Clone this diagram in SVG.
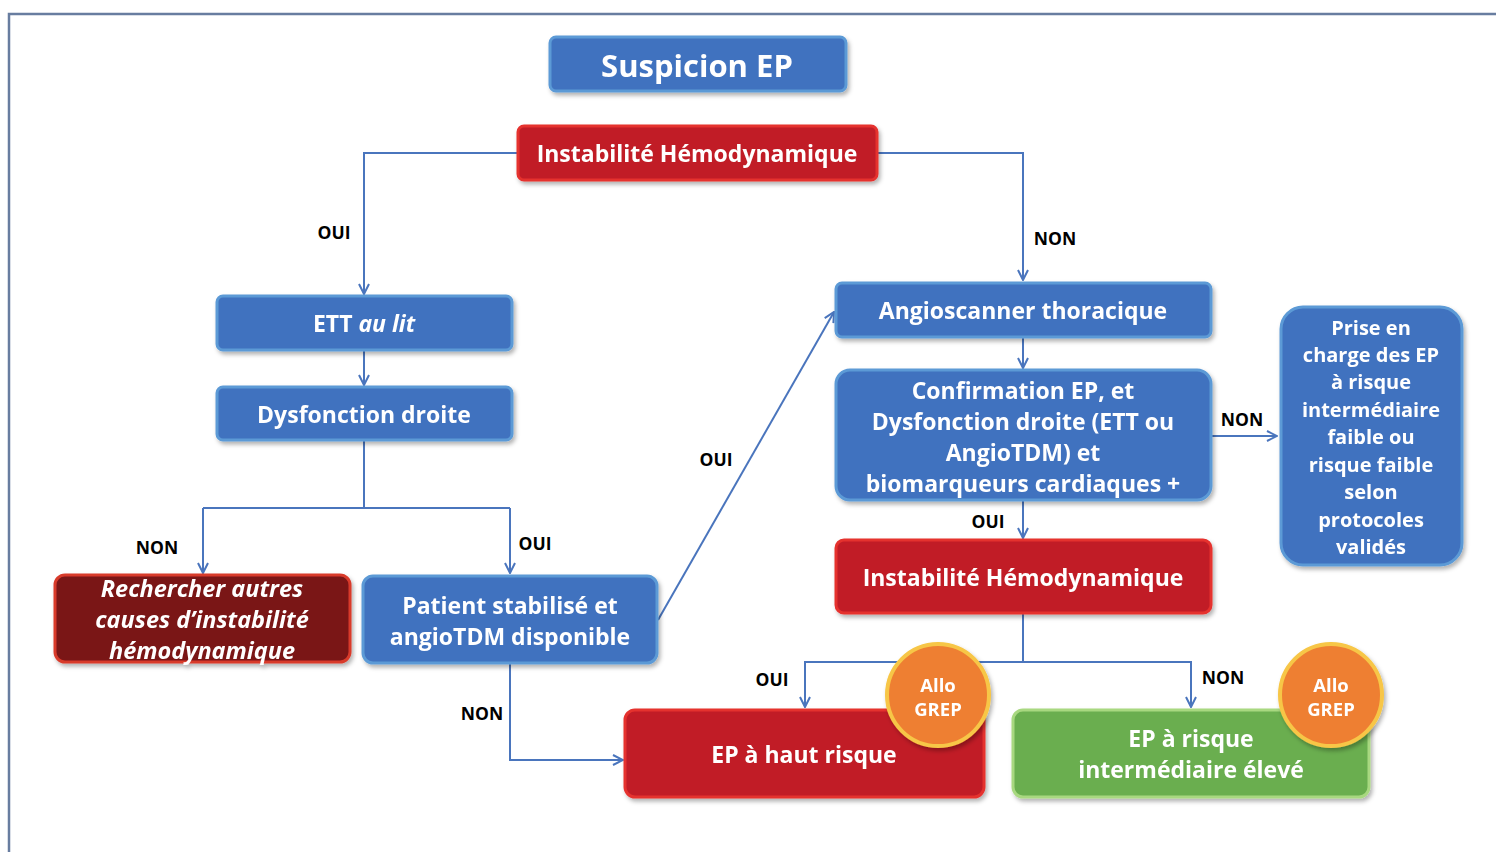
<svg xmlns="http://www.w3.org/2000/svg" width="1496" height="852" viewBox="0 0 1496 852">
<style>
.t{font-family:"Open Sans","Noto Sans",sans-serif;font-weight:700;fill:#fff;text-anchor:middle;dominant-baseline:central}
.lbl{font-family:"Open Sans","Noto Sans",sans-serif;font-weight:700;fill:#000;font-size:17.5px;text-anchor:middle;dominant-baseline:central}
.blue{fill:#4172bf;stroke:#5c9ad6;stroke-width:3}
.red{fill:#c11f27;stroke:#e5302e;stroke-width:3}
.dred{fill:#7a1414;stroke:#d83a2c;stroke-width:3}
.green{fill:#6aae4f;stroke:#a8d880;stroke-width:3}
.circ{fill:#ee7f32;stroke:#f7c646;stroke-width:4}
.c{fill:none;stroke:#4a75bd;stroke-width:2}
</style>
<defs>
<marker id="ah" viewBox="0 0 12 12" refX="11" refY="6" markerWidth="12" markerHeight="12" markerUnits="userSpaceOnUse" orient="auto">
<polyline points="1,1 11,6 1,11" fill="none" stroke="#4a75bd" stroke-width="2"/>
</marker>
<filter id="sh" x="-10%" y="-10%" width="125%" height="130%">
<feDropShadow dx="2" dy="3" stdDeviation="2" flood-color="#000" flood-opacity="0.3"/>
</filter>
</defs>
<rect x="0" y="0" width="1496" height="852" fill="#fff"/>
<path d="M9 852 V14 H1496" fill="none" stroke="#687da0" stroke-width="2.5"/>

<g id="connectors">
<path class="c" d="M518 153 H364 V294" marker-end="url(#ah)"/>
<path class="c" d="M877 153 H1023 V280" marker-end="url(#ah)"/>
<path class="c" d="M364 350 V385" marker-end="url(#ah)"/>
<path class="c" d="M364 440 V508 M203 508 H510 M203 508 V573" marker-end="url(#ah)"/>
<path class="c" d="M510 508 V573" marker-end="url(#ah)"/>
<path class="c" d="M658 620 L834 312" marker-end="url(#ah)"/>
<path class="c" d="M510 663 V760 H623" marker-end="url(#ah)"/>
<path class="c" d="M1023 337 V368" marker-end="url(#ah)"/>
<path class="c" d="M1211 436 H1277" marker-end="url(#ah)"/>
<path class="c" d="M1023 500 V538" marker-end="url(#ah)"/>
<path class="c" d="M1023 613 V662 H805 V707" marker-end="url(#ah)"/>
<path class="c" d="M1023 662 H1191 V707" marker-end="url(#ah)"/>
<text class="lbl" x="334" y="232">OUI</text>
<text class="lbl" x="1055" y="238">NON</text>
<text class="lbl" x="157" y="547">NON</text>
<text class="lbl" x="535" y="543">OUI</text>
<text class="lbl" x="716" y="459">OUI</text>
<text class="lbl" x="482" y="713">NON</text>
<text class="lbl" x="1242" y="419">NON</text>
<text class="lbl" x="988" y="521">OUI</text>
<text class="lbl" x="772" y="679">OUI</text>
<text class="lbl" x="1223" y="677">NON</text>
</g>

<g id="n-suspicion" filter="url(#sh)">
<rect class="blue" x="550" y="37" width="296" height="54" rx="6"/>
<text class="t" x="697" y="65" font-size="31">Suspicion EP</text>
</g>
<g id="n-instab1" filter="url(#sh)">
<rect class="red" x="518" y="126" width="359" height="54" rx="6"/>
<text class="t" x="697" y="153" font-size="23">Instabilité Hémodynamique</text>
</g>
<g id="n-ett" filter="url(#sh)">
<rect class="blue" x="217" y="296" width="295" height="54" rx="6"/>
<text class="t" x="364" y="323" font-size="23">ETT <tspan font-style="italic">au lit</tspan></text>
</g>
<g id="n-dysf" filter="url(#sh)">
<rect class="blue" x="217" y="387" width="295" height="53" rx="6"/>
<text class="t" x="364" y="414" font-size="23">Dysfonction droite</text>
</g>
<g id="n-rech" filter="url(#sh)">
<rect class="dred" x="55" y="575" width="295" height="87" rx="10"/>
<text class="t" font-size="23.5" font-style="italic"><tspan x="202" y="588">Rechercher autres</tspan><tspan x="202" y="619">causes d’instabilité</tspan><tspan x="202" y="650">hémodynamique</tspan></text>
</g>
<g id="n-patient" filter="url(#sh)">
<rect class="blue" x="363" y="576" width="294" height="87" rx="10"/>
<text class="t" font-size="23"><tspan x="510" y="605">Patient stabilisé et</tspan><tspan x="510" y="636">angioTDM disponible</tspan></text>
</g>
<g id="n-angio" filter="url(#sh)">
<rect class="blue" x="836" y="283" width="375" height="54" rx="6"/>
<text class="t" x="1023" y="310" font-size="23">Angioscanner thoracique</text>
</g>
<g id="n-confirm" filter="url(#sh)">
<rect class="blue" x="836" y="370" width="375" height="130" rx="14"/>
<text class="t" font-size="23"><tspan x="1023" y="390">Confirmation EP, et</tspan><tspan x="1023" y="421">Dysfonction droite (ETT ou</tspan><tspan x="1023" y="452">AngioTDM) et</tspan><tspan x="1023" y="483">biomarqueurs cardiaques +</tspan></text>
</g>
<g id="n-prise" filter="url(#sh)">
<rect class="blue" x="1281" y="307" width="181" height="258" rx="22"/>
<text class="t" font-size="20"><tspan x="1371" y="327">Prise en</tspan><tspan x="1371" y="354">charge des EP</tspan><tspan x="1371" y="381">à risque</tspan><tspan x="1371" y="409">intermédiaire</tspan><tspan x="1371" y="436">faible ou</tspan><tspan x="1371" y="464">risque faible</tspan><tspan x="1371" y="491">selon</tspan><tspan x="1371" y="519">protocoles</tspan><tspan x="1371" y="546">validés</tspan></text>
</g>
<g id="n-instab2" filter="url(#sh)">
<rect class="red" x="836" y="540" width="375" height="73" rx="8"/>
<text class="t" x="1023" y="577" font-size="23">Instabilité Hémodynamique</text>
</g>
<g id="n-haut" filter="url(#sh)">
<rect class="red" x="625" y="710" width="359" height="87" rx="10"/>
<text class="t" x="804" y="754" font-size="23">EP à haut risque</text>
</g>
<g id="n-inter" filter="url(#sh)">
<rect class="green" x="1013" y="710" width="356" height="87" rx="10"/>
<text class="t" font-size="23"><tspan x="1191" y="738">EP à risque</tspan><tspan x="1191" y="769">intermédiaire élevé</tspan></text>
</g>
<g id="n-allo1" filter="url(#sh)">
<circle class="circ" cx="938" cy="695" r="51"/>
<text class="t" font-size="18.5" font-weight="600"><tspan x="938" y="684">Allo</tspan><tspan x="938" y="708">GREP</tspan></text>
</g>
<g id="n-allo2" filter="url(#sh)">
<circle class="circ" cx="1331" cy="695" r="51"/>
<text class="t" font-size="18.5" font-weight="600"><tspan x="1331" y="684">Allo</tspan><tspan x="1331" y="708">GREP</tspan></text>
</g>
</svg>
